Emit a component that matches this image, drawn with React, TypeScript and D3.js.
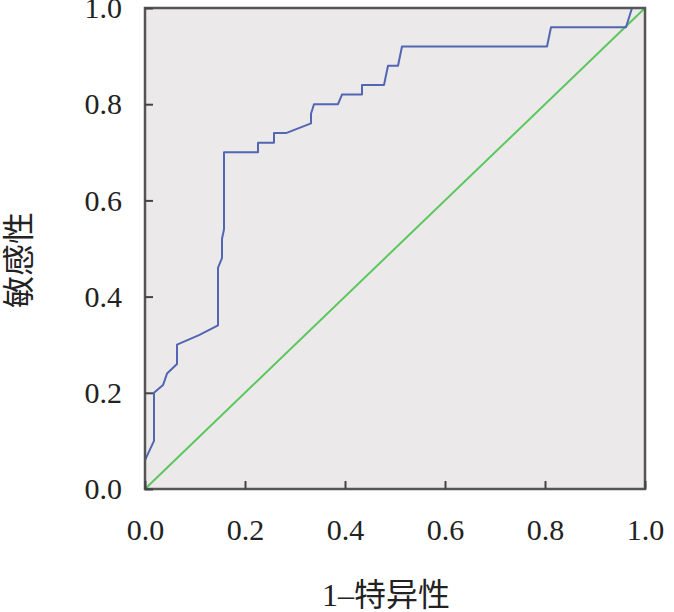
import React, { useEffect, useRef } from 'react';
import * as d3 from 'd3';

// ROC curve points: 1 - specificity, sensitivity
const fprValues = [
  0, 0, 0.018, 0.018, 0.036, 0.044, 0.064, 0.064, 0.108, 0.146, 0.146, 0.154,
  0.154, 0.158, 0.158, 0.226, 0.226, 0.258, 0.258, 0.282, 0.332, 0.332, 0.338,
  0.386, 0.394, 0.434, 0.434, 0.478, 0.486, 0.506, 0.514, 0.804, 0.812, 0.962,
  0.974, 1,
];
const tprValues = [
  0, 0.06, 0.1, 0.2, 0.216, 0.24, 0.26, 0.3, 0.32, 0.34, 0.46, 0.48, 0.52, 0.54,
  0.7, 0.7, 0.72, 0.72, 0.74, 0.74, 0.76, 0.78, 0.8, 0.8, 0.82, 0.82, 0.84, 0.84,
  0.88, 0.88, 0.92, 0.92, 0.96, 0.96, 1, 1,
];
const refLine = [
  [0, 0],
  [1, 1],
];
const tickValues = [0, 0.2, 0.4, 0.6, 0.8, 1.0];
const xLabel = '1–特异性';
const yLabel = '敏感性';

const App: React.FC = () => {
  const svgRef = useRef<SVGSVGElement>(null);

  useEffect(() => {
    if (svgRef.current) drawChart(svgRef.current);
  }, []);

  return (
    <svg
      ref={svgRef}
      width={674}
      height={612}
      style={{ position: 'absolute', left: 0, top: 0 }}
    ></svg>
  );
};

const drawChart = (node: SVGSVGElement) => {
  const margin = { top: 8, left: 145, right: 29, bottom: 123 };
  const width = 674 - margin.left - margin.right;
  const height = 612 - margin.top - margin.bottom;

  d3.select(node).selectAll('*').remove();

  const svg = d3
    .select(node)
    .append('g')
    .attr('transform', `translate(${margin.left}, ${margin.top})`);

  const xScale = d3.scaleLinear().domain([0, 1]).range([0, width]);
  const yScale = d3.scaleLinear().domain([0, 1]).range([height, 0]);

  svg
    .append('rect')
    .attr('width', width)
    .attr('height', height)
    .attr('fill', '#ebe9e9');

  const line = d3
    .line<number[]>()
    .x((d) => xScale(d[0]))
    .y((d) => yScale(d[1]));

  svg
    .append('path')
    .attr('d', line(refLine) || '')
    .attr('fill', 'none')
    .attr('stroke', '#5cc75e')
    .attr('stroke-width', 2);

  const roc = fprValues.map((x, i) => [x, tprValues[i]]);
  svg
    .append('path')
    .attr('d', line(roc) || '')
    .attr('fill', 'none')
    .attr('stroke', '#5266b2')
    .attr('stroke-width', 2)
    .attr('stroke-linejoin', 'round');

  svg
    .append('rect')
    .attr('width', width)
    .attr('height', height)
    .attr('fill', 'none')
    .attr('stroke', '#555')
    .attr('stroke-width', 2.5);

  const fmt = d3.format('.1f');

  const yAxisG = svg.append('g');
  yAxisG.call(
    d3
      .axisLeft(yScale)
      .tickValues(tickValues)
      .tickSizeInner(-8)
      .tickSizeOuter(0)
      .tickPadding(23)
      .tickFormat((d) => fmt(d as number))
  );

  const xAxisG = svg.append('g').attr('transform', `translate(0, ${height})`);
  xAxisG.call(
    d3
      .axisBottom(xScale)
      .tickValues(tickValues)
      .tickSizeInner(-8)
      .tickSizeOuter(0)
      .tickPadding(30)
      .tickFormat((d) => fmt(d as number))
  );

  svg.selectAll('.domain').remove();
  svg.selectAll('.tick line').attr('stroke', '#444').attr('stroke-width', 2);
  svg
    .selectAll('.tick text')
    .attr('fill', '#222')
    .style('font-family', '"Liberation Serif", "DejaVu Serif", serif')
    .style('font-size', '30px');

  d3.select(node)
    .append('text')
    .attr('transform', 'translate(30, 260) rotate(-90)')
    .attr('text-anchor', 'middle')
    .attr('fill', '#222')
    .style('font-family', '"Noto Sans CJK SC", sans-serif')
    .style('font-size', '32px')
    .text(yLabel);

  d3.select(node)
    .append('text')
    .attr('x', 386)
    .attr('y', 606)
    .attr('text-anchor', 'middle')
    .attr('fill', '#222')
    .style('font-family', '"Liberation Serif", "Noto Sans CJK SC", serif')
    .style('font-size', '32px')
    .text(xLabel);
};

export default App;
